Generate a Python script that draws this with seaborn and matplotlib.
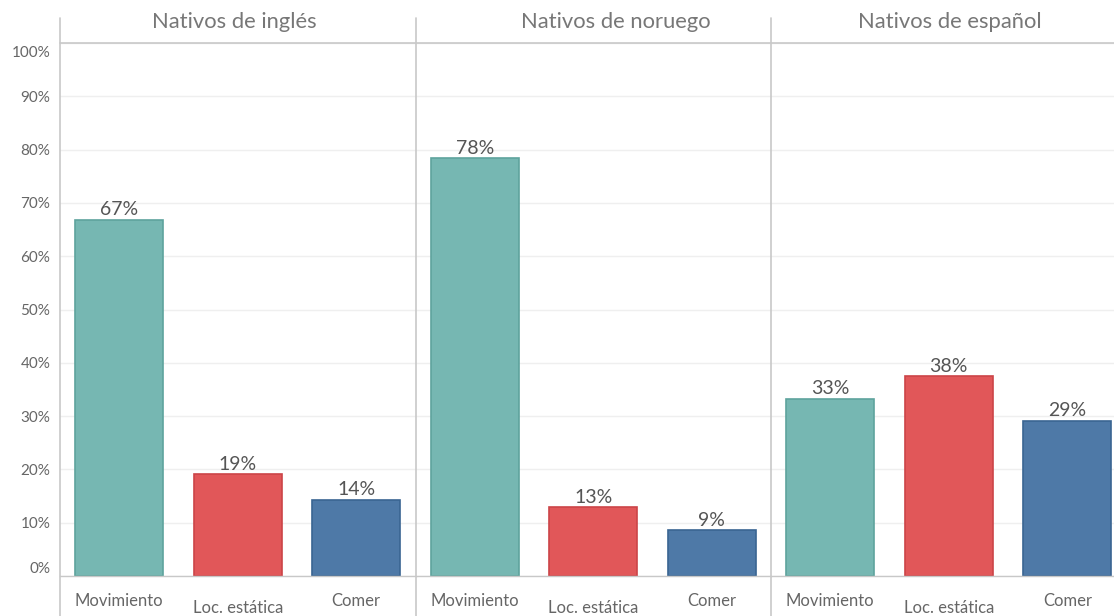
import matplotlib
matplotlib.use("Agg")
import matplotlib.pyplot as plt
from matplotlib.lines import Line2D
from matplotlib.transforms import ScaledTranslation
import seaborn as sns
import pandas as pd

groups = ["Nativos de inglés", "Nativos de noruego", "Nativos de español"]
categories = ["Movimiento", "Loc. estática", "Comer"]
ingles = [66.8, 19.1, 14.3]
noruego = [78.4, 12.9, 8.6]
espanol = [33.2, 37.5, 29.1]
y_ticks = [0, 10, 20, 30, 40, 50, 60, 70, 80, 90, 100]

fills = ["#76b7b2", "#e15759", "#4e79a7"]
edges = ["#5ea39d", "#cc4448", "#3a6592"]

df = pd.DataFrame({
    "grupo": [g for g in groups for _ in categories],
    "categoria": categories * len(groups),
    "valor": ingles + noruego + espanol,
})

sns.set_theme(style="white")
plt.rcParams["font.family"] = ["Lato", "DejaVu Sans"]

W, H = 1114, 616
fig = plt.figure(figsize=(W / 100, H / 100), dpi=100)
left, top, bottom = 60, 43, 576
panel_w = 355.5
# the last panel runs past the right edge of the canvas
panel_edges = [left + k * panel_w for k in range(4)]
title_centers = [234, 616, 950]

for i, g in enumerate(groups):
    x0 = panel_edges[i] / W
    w = panel_w / W
    ax = fig.add_axes([x0, (H - bottom) / H, w, (bottom - top) / H])
    sub = df[df["grupo"] == g]
    sns.barplot(data=sub, x="categoria", y="valor", hue="categoria",
                palette=fills, order=categories, hue_order=categories,
                width=0.745, saturation=1, legend=False, ax=ax, errorbar=None)
    for patch, ec in zip(ax.patches, edges):
        patch.set_edgecolor(ec)
        patch.set_linewidth(1.2)
    for patch, v in zip(ax.patches, sub["valor"]):
        ax.text(patch.get_x() + patch.get_width() / 2, v + 0.3,
                f"{round(v):.0f}%", ha="center", va="bottom",
                fontsize=14, color="#555555")
    ax.set_ylim(0, 100)
    ax.set_xlim(-0.5, 2.5)
    ax.set_yticks(y_ticks)
    ax.yaxis.grid(True, color="#efefef", linewidth=1)
    ax.set_axisbelow(True)
    ax.set_xlabel("")
    ax.set_ylabel("")
    for s in ax.spines.values():
        s.set_visible(False)
    ax.spines["bottom"].set_visible(True)
    ax.spines["bottom"].set_color("#c8c8c8")
    ax.spines["bottom"].set_linewidth(1)
    ax.tick_params(axis="x", length=0, pad=12, labelsize=12, labelcolor="#666666")
    ax.xaxis.get_major_ticks()[1].set_pad(17)
    if i == 0:
        ax.set_yticklabels([f"{t}%" for t in y_ticks])
        ax.tick_params(axis="y", length=0, pad=7, labelsize=11, labelcolor="#666666")
        labels = ax.get_yticklabels()
        labels[0].set_va("bottom")
        labels[-1].set_va("center")
        labels[-1].set_transform(labels[-1].get_transform()
                                 + ScaledTranslation(0, -0.1, fig.dpi_scale_trans))
    else:
        ax.tick_params(axis="y", length=0, labelleft=False)
    fig.text(title_centers[i] / W, 1 - 22 / H, g, ha="center", va="center",
             fontsize=15.8, color="#777777")

line_color = "#c8c8c8"
# header underline and panel separators
fig.add_artist(Line2D([left / W, 1], [1 - top / H] * 2, color=line_color, lw=1.2))
fig.add_artist(Line2D([left / W] * 2, [0, 1 - 18 / H], color=line_color, lw=1.2))
for xe in panel_edges[1:-1]:
    fig.add_artist(Line2D([xe / W] * 2, [0, 1 - 18 / H], color=line_color, lw=1.2))

fig.savefig("out.png", dpi=100, facecolor="white")
